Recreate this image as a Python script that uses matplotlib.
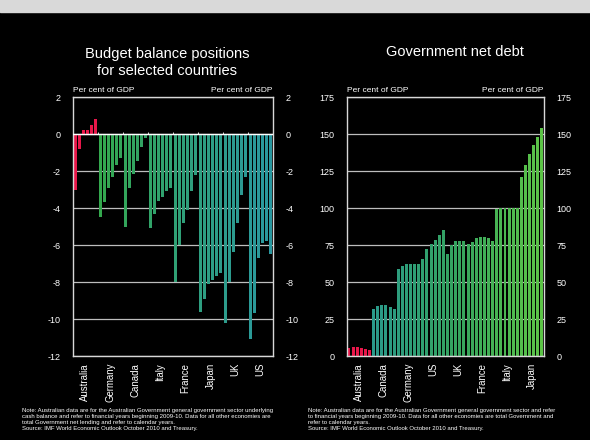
import matplotlib.pyplot as plt
import numpy as np
from matplotlib.colors import LinearSegmentedColormap

plt.rcParams['font.family'] = ['Liberation Sans', 'DejaVu Sans']

# Budget balance, per cent of GDP, six years per country
bb_countries = ['Australia', 'Germany', 'Canada', 'Italy', 'France', 'Japan', 'UK', 'US']
bb_values = [
    [-3.0, -0.8, 0.2, 0.2, 0.5, 0.8],
    [-4.5, -3.7, -2.9, -2.3, -1.7, -1.3],
    [-5.0, -2.9, -2.15, -1.45, -0.7, -0.2],
    [-5.1, -4.3, -3.6, -3.4, -3.1, -2.9],
    [-8.0, -6.0, -4.8, -4.1, -3.1, -2.2],
    [-9.6, -8.9, -8.1, -7.9, -7.65, -7.5],
    [-10.2, -8.0, -6.4, -4.8, -3.3, -2.3],
    [-11.1, -9.7, -6.7, -5.9, -5.8, -6.5],
]
bb_ticks = [2, 0, -2, -4, -6, -8, -10, -12]

# Government net debt, per cent of GDP
nd_countries = ['Australia', 'Canada', 'Germany', 'US', 'UK', 'France', 'Italy', 'Japan']
nd_values = [
    [5.5, 6.1, 6.0, 5.6, 5.0, 4.0],
    [32.0, 33.8, 34.5, 34.3, 33.3, 32.0],
    [59.0, 60.8, 62.0, 62.4, 62.4, 62.2],
    [65.8, 72.6, 76.0, 78.7, 81.6, 85.0],
    [69.0, 75.0, 77.5, 78.0, 77.5, 76.0],
    [77.0, 79.5, 80.5, 80.5, 79.5, 78.0],
    [99.5, 100.0, 100.2, 100.3, 100.2, 100.0],
    [121.0, 129.0, 136.5, 142.5, 148.0, 154.0],
]
nd_ticks = [0, 25, 50, 75, 100, 125, 150, 175]

note_left = ('Note: Australian data are for the Australian Government general government sector underlying\n'
             'cash balance and refer to financial years beginning 2009-10. Data for all other economies are\n'
             'total Government net lending and refer to calendar years.\n'
             'Source: IMF World Economic Outlook October 2010 and Treasury.')
note_right = ('Note: Australian data are for the Australian Government general government sector and refer\n'
              'to financial years beginning 2009-10. Data for all other economies are total Government and\n'
              'refer to calendar years.\n'
              'Source: IMF World Economic Outlook October 2010 and Treasury.')

RED = '#e8174a'
FRAME = '#d8d8d8'
GRID = '#bdbdbd'

cmap_left = LinearSegmentedColormap.from_list('bb', ['#34a84e', '#2f9f7a', '#2a98a0'])
cmap_right = LinearSegmentedColormap.from_list('nd', ['#2a9a8a', '#35a45e', '#5cc447'])


def draw_panel(ax, countries, values, ticks, cmap):
	flat = np.concatenate([np.array(v) for v in values])
	n_per = len(values[0])
	x = np.arange(len(flat))
	cols = [RED if i < n_per else cmap((i - n_per) / (len(flat) - n_per - 1)) for i in x]
	ax.bar(x, flat, width=0.72, color=cols, edgecolor='none', zorder=2)
	ax.set_facecolor('black')
	ax.set_xlim(-0.5, len(flat) - 0.5)
	ax.set_ylim(min(ticks), max(ticks))
	ax.set_yticks(ticks)
	ax.set_yticklabels([str(t) for t in ticks])
	for t in ticks:
		ax.axhline(t, color=GRID, lw=0.9, zorder=1)
	for s in ax.spines.values():
		s.set_color(FRAME)
		s.set_linewidth(1.0)
	ax.tick_params(axis='y', length=0, pad=9, colors='white', labelsize=6.5,
				   labelleft=True, labelright=True)
	centers = [n_per * g + (n_per - 1) / 2 for g in range(len(countries))]
	ax.set_xticks(centers)
	ax.set_xticklabels(countries, rotation=90, color='white', fontsize=6.9)
	ax.tick_params(axis='x', length=0, pad=5)
	ax.text(0.0, 1.012, 'Per cent of GDP', transform=ax.transAxes, color='white',
			fontsize=6, ha='left', va='bottom')
	ax.text(1.0, 1.012, 'Per cent of GDP', transform=ax.transAxes, color='white',
			fontsize=6, ha='right', va='bottom')
	return n_per, len(flat)


fig = plt.figure(figsize=(5.9, 4.4), dpi=100)
fig.patch.set_facecolor('black')
fig.add_artist(plt.Rectangle((0, 0.972), 1, 0.03, transform=fig.transFigure,
							 color='#d9d9d9', zorder=0))

ax1 = fig.add_axes([0.1237, 0.1909, 0.339, 0.5886])
n_per, n_tot = draw_panel(ax1, bb_countries, bb_values, bb_ticks, cmap_left)
ax1.axhline(0, color='white', lw=1.0, zorder=3)
# small category ticks on the zero line
bounds = np.arange(n_per, n_tot, n_per) - 0.5
ax1.vlines(bounds, 0, 0.12, color='white', lw=0.6, zorder=3)

ax2 = fig.add_axes([0.588, 0.1909, 0.334, 0.5886])
draw_panel(ax2, nd_countries, nd_values, nd_ticks, cmap_right)

fig.text(0.283, 0.858, 'Budget balance positions\nfor selected countries', color='white',
		 fontsize=10.5, ha='center', va='center', linespacing=1.3)
fig.text(0.771, 0.882, 'Government net debt', color='white', fontsize=10.5,
		 ha='center', va='center')

fig.text(0.037, 0.047, note_left, color='white', fontsize=4.35, ha='left', va='center',
		 linespacing=1.25)
fig.text(0.522, 0.047, note_right, color='white', fontsize=4.35, ha='left', va='center',
		 linespacing=1.25)

plt.savefig('out.png', dpi=100, facecolor=fig.get_facecolor())
